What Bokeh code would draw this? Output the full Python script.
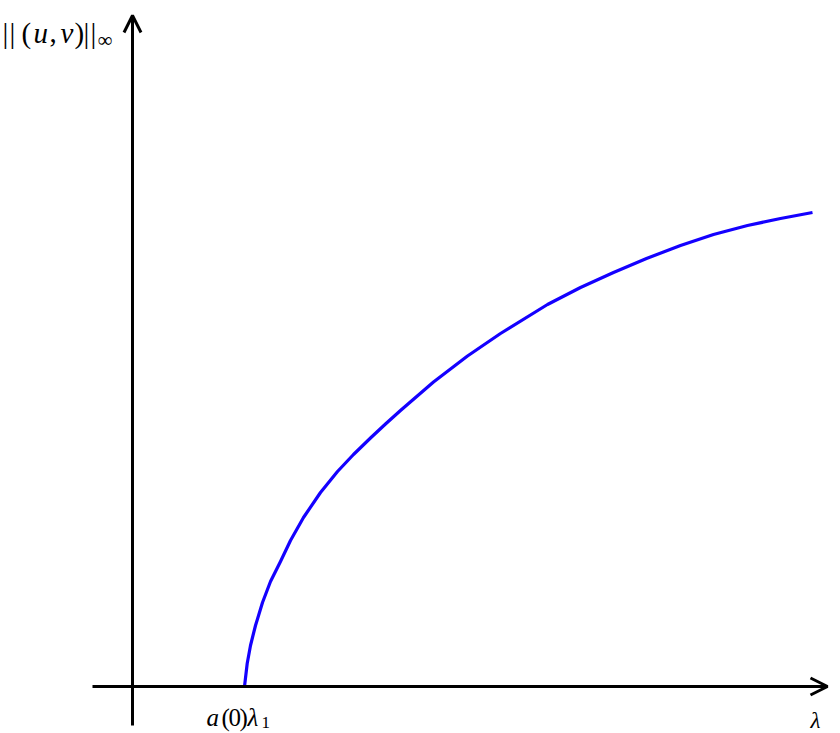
from bokeh.plotting import figure
from bokeh.models import Arrow, OpenHead, Label, Range1d
from bokeh.embed import file_html
from bokeh.resources import INLINE

# Curve data: lambda vs ||(u,v)||_inf (arbitrary units)
lam = [1.12, 1.147, 1.18, 1.23, 1.30, 1.38, 1.48, 1.58, 1.71, 1.88, 2.05, 2.21,
       2.38, 2.53, 2.68, 3.01, 3.35, 3.68, 4.15, 4.48, 4.81, 5.14, 5.48, 5.81,
       6.15, 6.48, 6.80]
norm = [0.00, 0.23, 0.41, 0.61, 0.84, 1.05, 1.25, 1.46, 1.69, 1.94, 2.15, 2.32,
        2.485, 2.625, 2.76, 3.045, 3.305, 3.53, 3.82, 3.99, 4.14, 4.28, 4.41, 4.52,
        4.61, 4.68, 4.74]

# Axis extents
x_axis_start, x_axis_end = -0.40, 6.95
y_axis_start, y_axis_end = -0.39, 6.71

W, H = 840, 733
p = figure(width=W, height=H, output_backend="svg", toolbar_location=None,
           x_range=Range1d(-1.32, 7.08), y_range=Range1d(-0.47, 6.86),
           min_border=0, outline_line_color=None)
p.axis.visible = False
p.grid.visible = False

def px(x):  # picture pixel x -> data
    return (x - 132) / 100.0

def py(y):  # picture pixel y -> data
    return (686 - y) / 100.0

p.line(lam, norm, line_color="#1400ff", line_width=3.2, line_join="round")

p.add_layout(Arrow(end=OpenHead(size=17, line_width=3, line_color="black"),
                   x_start=x_axis_start, y_start=0, x_end=x_axis_end, y_end=0,
                   line_width=3, line_color="black"))
p.add_layout(Arrow(end=OpenHead(size=17, line_width=3, line_color="black"),
                   x_start=0, y_start=y_axis_start, x_end=0, y_end=y_axis_end,
                   line_width=3, line_color="black"))

FONT = "Liberation Serif"

def lab(text, x, y, size, style="normal"):
    p.add_layout(Label(x=px(x), y=py(y), text=text, text_font=FONT,
                       text_font_size=f"{size}px", text_font_style=style,
                       text_align="left", text_baseline="alphabetic",
                       text_color="black"))

# y label  ||(u, v)||_inf
lab("|", 2, 32, 29)
lab("|", 9, 32, 29)
lab("(", 21, 32, 29)
lab("u", 33, 32, 29, "italic")
lab(",", 49, 32, 29)
lab("v", 60, 32, 29, "italic")
lab(")", 74, 32, 29)
lab("|", 83, 32, 29)
lab("|", 90, 32, 29)
lab("\u221e", 97, 39, 21)

# a(0) lambda_1 under the bifurcation point
lab("a", 206, 717, 25, "italic")
lab("(", 221, 717, 25)
lab("0", 228, 717, 25)
lab(")", 239, 717, 25)
lab("\u03bb", 247, 717, 25, "italic")
lab("1", 261, 722, 17)

# lambda at the end of the x axis
lab("\u03bb", 810, 720, 23, "italic")

open("out.html", "w").write(file_html(p, INLINE))
